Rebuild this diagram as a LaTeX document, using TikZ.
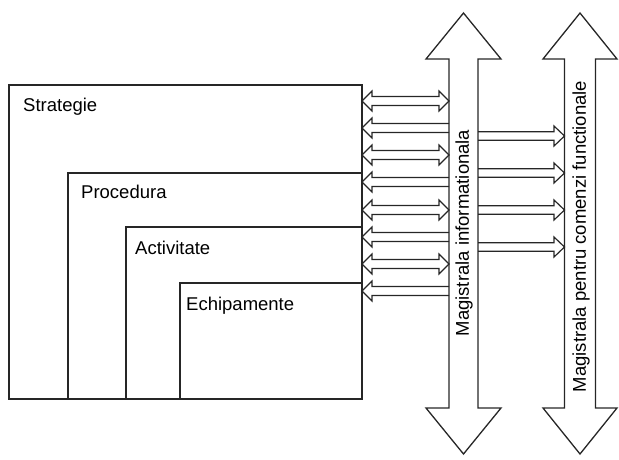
\documentclass[tikz,border=0pt]{standalone}
\usepackage{fontspec}
\setmainfont{Liberation Sans}
\usetikzlibrary{positioning}

\begin{document}
\begin{tikzpicture}[
  x=1pt, y=-1pt,
  level/.style={draw=black!85, line width=1.3pt},
  bus/.style={draw=black!85, line width=1.3pt, line join=miter},
  link/.style={draw=black!85, line width=1.2pt, line join=miter},
  lbl/.style={font=\fontsize{18.5}{22}\selectfont, inner sep=0pt, anchor=base west},
  buslbl/.style={font=\fontsize{18.5}{22}\selectfont, inner sep=0pt, rotate=90}
]
  \useasboundingbox (0,0) rectangle (619,459);

  % nested levels
  \draw[level] (9,85)   rectangle (362,399);
  \draw[level] (68,173) rectangle (362,399);
  \draw[level] (126,227) rectangle (362,399);
  \draw[level] (180,283) rectangle (362,399);

  \node[lbl] (strat) at (23,111)  {Strategie};
  \node[lbl] (proc)  at (81,198)  {Procedura};
  \node[lbl] (activ) at (135,254) {Activitate};
  \node[lbl] (echip) at (186,310) {Echipamente};

  % the two buses
  \draw[bus] (463.5,13) -- (501,59) -- (478,59) -- (478,408) -- (501,408)
    -- (463.5,454) -- (426,408) -- (449,408) -- (449,59) -- (426,59) -- cycle;
  \draw[bus] (580,13) -- (617,59) -- (595.5,59) -- (595.5,408) -- (617,408)
    -- (580,454) -- (543,408) -- (564.5,408) -- (564.5,59) -- (543,59) -- cycle;

  \node[buslbl] (info) at (464,233)   {Magistrala informationala};
  \node[buslbl] (cmd)  at (581,236.5) {Magistrala pentru comenzi functionale};

  % two-way links levels <-> information bus
  \foreach \y in {101,155,210,264}
    \draw[link] (362,\y) -- (372,\y-10) -- (372,\y-4.5) -- (439,\y-4.5)
      -- (439,\y-10) -- (449,\y) -- (439,\y+10) -- (439,\y+4.5)
      -- (372,\y+4.5) -- (372,\y+10) -- cycle;

  % one-way links information bus -> levels
  \foreach \y in {128,182,237,291}
    \draw[link] (449,\y-4.5) -- (372,\y-4.5) -- (372,\y-10) -- (362,\y)
      -- (372,\y+10) -- (372,\y+4.5) -- (449,\y+4.5);

  % commands: information bus -> command bus
  \foreach \y in {136,173,210,247}
    \draw[link] (478,\y-4.2) -- (554,\y-4.2) -- (554,\y-10) -- (564.5,\y)
      -- (554,\y+10) -- (554,\y+4.2) -- (478,\y+4.2);
\end{tikzpicture}
\end{document}
